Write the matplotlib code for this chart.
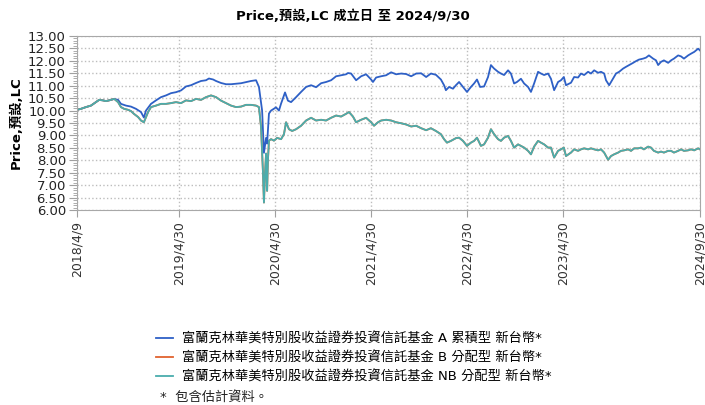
import numpy as np
import pandas as pd
import matplotlib
matplotlib.use('Agg')
import matplotlib.pyplot as plt
from matplotlib.ticker import MultipleLocator, FormatStrFormatter

# NAV; day offsets counted from the launch date
launch = pd.Timestamp('2018-04-09')

a_days = [0, 15, 34, 53, 72, 84, 99, 110, 129, 141, 156, 167, 186, 205, 224, 243, 254, 262,
          281, 300, 319, 338, 357, 376, 395, 414, 433, 452, 471, 490, 501, 517, 528, 547,
          566, 585, 623, 661, 680, 691, 703, 706, 710, 718, 722, 729, 737, 756, 767, 775,
          790, 801, 813, 832, 851, 870, 889, 908, 927, 946, 965, 984, 1003, 1022, 1029,
          1041, 1060, 1079, 1098, 1117, 1124, 1136, 1155, 1174, 1193, 1212, 1231, 1250,
          1269, 1288, 1307, 1326, 1344, 1363, 1382, 1394, 1401, 1413, 1428, 1439, 1451,
          1466, 1481, 1496, 1508, 1519, 1531, 1546, 1561, 1572, 1584, 1599, 1610, 1622,
          1637, 1648, 1660, 1671, 1686, 1698, 1713, 1724, 1736, 1751, 1762, 1774, 1789,
          1800, 1812, 1827, 1838, 1849, 1857, 1876, 1888, 1903, 1914, 1926, 1941, 1952,
          1964, 1979, 1990, 2002, 2009, 2021, 2032, 2047, 2059, 2074, 2085, 2097, 2112,
          2123, 2134, 2150, 2161, 2172, 2188, 2199, 2207, 2218, 2229, 2245, 2256, 2267,
          2283, 2294, 2305, 2321, 2332, 2344, 2359, 2366]
a_nav = [10.03, 10.07, 10.14, 10.20, 10.34, 10.43, 10.41, 10.38, 10.43, 10.47, 10.43, 10.27,
         10.20, 10.16, 10.07, 9.94, 9.72, 10.00, 10.27, 10.41, 10.54, 10.61, 10.70, 10.74,
         10.81, 10.97, 11.02, 11.11, 11.19, 11.22, 11.29, 11.25, 11.19, 11.11, 11.06, 11.06,
         11.10, 11.19, 11.22, 10.95, 10.00, 9.30, 8.30, 8.90, 8.67, 9.88, 10.00, 10.13,
         10.00, 10.28, 10.73, 10.40, 10.34, 10.54, 10.75, 10.95, 11.02, 10.94, 11.10, 11.15,
         11.22, 11.38, 11.42, 11.46, 11.51, 11.49, 11.22, 11.38, 11.46, 11.25, 11.15, 11.33,
         11.38, 11.42, 11.54, 11.46, 11.49, 11.47, 11.38, 11.49, 11.50, 11.35, 11.49, 11.44,
         11.25, 11.02, 10.82, 10.95, 10.88, 11.02, 11.15, 10.95, 10.75, 10.95, 11.09, 11.25,
         10.95, 10.97, 11.35, 11.83, 11.69, 11.56, 11.49, 11.43, 11.62, 11.49, 11.09, 11.15,
         11.28, 11.09, 10.95, 10.75, 11.09, 11.56, 11.49, 11.43, 11.49, 11.28, 10.82, 11.15,
         11.22, 11.35, 11.02, 11.12, 11.35, 11.33, 11.49, 11.43, 11.56, 11.49, 11.62, 11.52,
         11.56, 11.49, 11.22, 11.02, 11.22, 11.49, 11.56, 11.69, 11.76, 11.83, 11.92, 11.99,
         12.05, 12.09, 12.13, 12.22, 12.09, 12.02, 11.83, 11.96, 12.02, 11.92, 12.02, 12.09,
         12.22, 12.18, 12.09, 12.22, 12.29, 12.36, 12.49, 12.42]

nb_days = [0, 15, 34, 53, 72, 84, 99, 110, 129, 141, 156, 167, 179, 194, 205, 216, 232, 243,
           254, 262, 270, 281, 300, 319, 338, 357, 376, 395, 414, 433, 452, 471, 490, 509,
           528, 547, 566, 585, 604, 623, 642, 661, 680, 691, 699, 703, 706, 710, 714, 718,
           722, 725, 729, 737, 748, 760, 775, 786, 794, 805, 817, 832, 851, 870, 889, 908,
           927, 946, 965, 984, 1003, 1022, 1033, 1048, 1060, 1079, 1098, 1117, 1128, 1143,
           1155, 1174, 1193, 1212, 1231, 1250, 1269, 1288, 1307, 1326, 1344, 1363, 1382,
           1394, 1405, 1420, 1439, 1451, 1466, 1481, 1496, 1508, 1519, 1534, 1546, 1561,
           1572, 1584, 1599, 1610, 1622, 1637, 1648, 1660, 1675, 1686, 1698, 1713, 1724,
           1736, 1751, 1762, 1774, 1789, 1800, 1812, 1827, 1838, 1849, 1857, 1876, 1888,
           1903, 1914, 1926, 1941, 1952, 1964, 1979, 1990, 2002, 2017, 2028, 2040, 2055,
           2066, 2078, 2093, 2104, 2116, 2131, 2142, 2153, 2169, 2180, 2191, 2207, 2218,
           2229, 2245, 2256, 2267, 2283, 2294, 2305, 2321, 2332, 2344, 2359, 2366]
nb_nav = [10.03, 10.07, 10.14, 10.20, 10.34, 10.43, 10.41, 10.38, 10.43, 10.47, 10.34, 10.14,
          10.07, 10.03, 9.98, 9.87, 9.74, 9.60, 9.53, 9.74, 9.94, 10.14, 10.20, 10.27, 10.27,
          10.30, 10.34, 10.30, 10.41, 10.38, 10.47, 10.43, 10.54, 10.61, 10.54, 10.40, 10.30,
          10.20, 10.14, 10.16, 10.23, 10.23, 10.20, 10.14, 9.33, 8.38, 7.58, 6.30, 7.45, 8.27,
          6.77, 7.98, 8.79, 8.85, 8.79, 8.90, 8.85, 9.05, 9.53, 9.25, 9.18, 9.25, 9.39, 9.60,
          9.71, 9.60, 9.63, 9.60, 9.71, 9.80, 9.76, 9.87, 9.94, 9.76, 9.53, 9.63, 9.71, 9.53,
          9.39, 9.53, 9.60, 9.63, 9.60, 9.53, 9.49, 9.44, 9.36, 9.39, 9.29, 9.21, 9.29, 9.18,
          9.05, 8.85, 8.71, 8.78, 8.89, 8.91, 8.78, 8.58, 8.71, 8.78, 8.91, 8.58, 8.64, 8.91,
          9.25, 9.05, 8.85, 8.78, 8.91, 8.98, 8.78, 8.51, 8.64, 8.58, 8.51, 8.38, 8.24, 8.55,
          8.78, 8.71, 8.64, 8.51, 8.51, 8.11, 8.38, 8.44, 8.51, 8.17, 8.31, 8.44, 8.38, 8.44,
          8.48, 8.44, 8.48, 8.44, 8.40, 8.44, 8.31, 8.02, 8.17, 8.24, 8.31, 8.38, 8.40, 8.44,
          8.38, 8.48, 8.48, 8.51, 8.44, 8.55, 8.51, 8.38, 8.31, 8.35, 8.31, 8.38, 8.38, 8.31,
          8.38, 8.44, 8.38, 8.40, 8.44, 8.40, 8.48, 8.44]

# B class sits right under NB on the chart
b_days = list(nb_days)
b_nav = list(nb_nav)

series_names = ['富蘭克林華美特別股收益證券投資信託基金 A 累積型 新台幣*',
                '富蘭克林華美特別股收益證券投資信託基金 B 分配型 新台幣*',
                '富蘭克林華美特別股收益證券投資信託基金 NB 分配型 新台幣*']

tick_dates = ['2018-04-09', '2019-04-30', '2020-04-30', '2021-04-30',
              '2022-04-30', '2023-04-30', '2024-09-30']
tick_labels = ['2018/4/9', '2019/4/30', '2020/4/30', '2021/4/30',
               '2022/4/30', '2023/4/30', '2024/9/30']

fonts = ['DejaVu Sans', 'Noto Sans CJK TC']
plt.rcParams['font.family'] = fonts


def to_dates(days):
    return launch + pd.to_timedelta(days, unit='D')


fig = plt.figure(figsize=(7.05, 4.05), dpi=100)
ax = fig.add_axes([77 / 705, 1 - 210 / 405, 623 / 705, 174 / 405])

ax.plot(to_dates(a_days), a_nav, color='#2e60c6', lw=1.3, label=series_names[0])
ax.plot(to_dates(b_days), b_nav, color='#e0622e', lw=1.3, label=series_names[1])
ax.plot(to_dates(nb_days), nb_nav, color='#4aadad', lw=1.3, label=series_names[2])

ax.set_xlim(pd.Timestamp(tick_dates[0]), pd.Timestamp(tick_dates[-1]))
ax.set_ylim(6, 13)
ax.yaxis.set_major_locator(MultipleLocator(0.5))
ax.yaxis.set_minor_locator(MultipleLocator(0.1))
ax.yaxis.set_major_formatter(FormatStrFormatter('%.2f'))
ax.set_xticks(pd.to_datetime(tick_dates))
ax.set_xticklabels(tick_labels, rotation=90, fontsize=9, color='#333333')
ax.tick_params(axis='y', which='major', length=6, pad=2, labelsize=9.5,
               colors='#a0a0a0', labelcolor='#222222')
ax.tick_params(axis='y', which='minor', length=3, colors='#a0a0a0')
ax.tick_params(axis='x', length=5, pad=3, colors='#a0a0a0', labelcolor='#333333')

ax.grid(True, which='major', color='#bdbdbd', linestyle=':', linewidth=1.0)
for s in ax.spines.values():
    s.set_color('#a8a8a8')

ax.set_ylabel('Price,預設,LC', fontsize=9.5, fontweight='bold', labelpad=4)
fig.text(0.5, 1 - 16 / 405, 'Price,預設,LC 成立日 至 2024/9/30', ha='center',
         va='center', fontsize=9.5, fontweight='bold')

handles, labels = ax.get_legend_handles_labels()
fig.legend(handles, labels, loc='upper left', bbox_to_anchor=(152 / 705, 1 - 328 / 405),
           frameon=False, fontsize=9.5, handlelength=1.3, handletextpad=0.65,
           labelspacing=0.45, borderaxespad=0, borderpad=0.3)
fig.text(160 / 705, 1 - 398 / 405, '*  包含估計資料。', fontsize=9.5, va='center',
         color='#222222')

fig.savefig('out.png', dpi=100)
